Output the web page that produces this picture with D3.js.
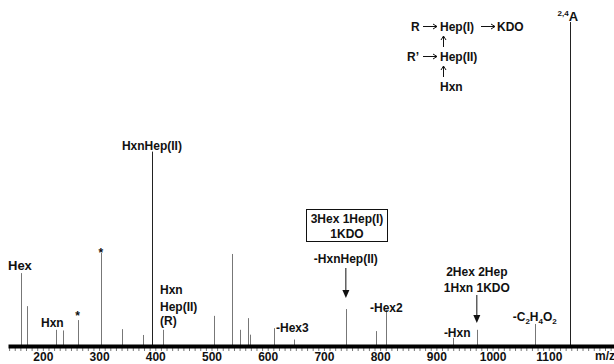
<!DOCTYPE html>
<html>
<head>
<meta charset="utf-8">
<script src="https://cdn.jsdelivr.net/npm/d3@7"></script>
<style>
  html, body { margin: 0; padding: 0; background: #fff; }
  svg { display: block; }
  text { font-family: "Liberation Sans", Arial, sans-serif; font-weight: bold; fill: #111; }
</style>
</head>
<body>
<svg id="ms" width="614" height="364"></svg>
<script>
// MS/MS spectrum, m/z vs relative intensity (2,4A = 100)
const peakMz = [161, 171, 223, 235, 262, 303, 341, 378, 394, 414, 504, 536, 551, 565, 568, 611, 646, 739, 793, 811, 930, 972, 1075, 1137];
const peakInt = [22.5, 12.3, 5, 4.8, 8, 28.7, 5.2, 3.4, 60, 5, 9.3, 28.4, 5, 8.6, 3.5, 5.5, 2, 11.4, 4.6, 11.1, 2.5, 5, 6.8, 100];
const tickMz = [200, 300, 400, 500, 600, 700, 800, 900, 1000, 1100];

const svg = d3.select('#ms');
const base = 346;
const x = d3.scaleLinear().domain([138, 1216]).range([8, 614]);
const y = d3.scaleLinear().domain([0, 100]).range([base, 22]);

// Peaks
const peaks = peakMz.map((m, i) => ({ mz: m, v: peakInt[i] }));
svg.append('g')
  .selectAll('line')
  .data(peaks)
  .enter()
  .append('line')
  .attr('x1', d => Math.round(x(d.mz)) + 0.5)
  .attr('x2', d => Math.round(x(d.mz)) + 0.5)
  .attr('y1', base)
  .attr('y2', d => y(d.v))
  .attr('stroke', d => d.v > 50 ? '#222' : '#777')
  .attr('stroke-width', 1);

// Minor ticks under the baseline
svg.append('g')
  .attr('transform', `translate(0,${base + 2})`)
  .call(d3.axisBottom(x).tickValues(d3.range(140, 1216, 10)).tickSize(3).tickFormat(''))
  .call(g => g.select('.domain').remove())
  .call(g => g.selectAll('line').attr('stroke', '#777'));

// Baseline band + labels
const ax = svg.append('g')
  .attr('transform', `translate(0,${base})`)
  .call(d3.axisBottom(x).tickValues(tickMz).tickSize(0).tickPadding(6).tickFormat(d3.format('d')));
ax.select('.domain').attr('stroke', '#000').attr('stroke-width', 4);
ax.selectAll('text').attr('font-size', 12).attr('font-family', '"Liberation Sans", Arial, sans-serif').attr('font-weight', 'bold').attr('fill', '#111');

svg.append('text').attr('x', 605).attr('y', 360).attr('text-anchor', 'middle')
  .attr('font-size', 12).text('m/z');

// Annotations
function label(txt, mx, yy, anchor, size) {
  return svg.append('text')
    .attr('x', mx)
    .attr('y', yy)
    .attr('text-anchor', anchor || 'middle')
    .attr('font-size', size || 12)
    .text(txt);
}
function arrow(px, y1, y2) {
  svg.append('line').attr('x1', px).attr('x2', px).attr('y1', y1).attr('y2', y2 - 7)
    .attr('stroke', '#111').attr('stroke-width', 1);
  svg.append('path').attr('d', `M${px - 3.5},${y2 - 8} L${px + 3.5},${y2 - 8} L${px},${y2} Z`).attr('fill', '#111');
}

label('Hex', 8, 270, 'start', 13);
label('Hxn', 41, 327, 'start');
label('*', x(262), 320, 'middle', 12);
label('*', x(303), 257, 'middle', 12);
label('HxnHep(II)', x(394), 150);
label('Hxn', 160, 294, 'start');
label('Hep(II)', 160, 311, 'start');
label('(R)', 160, 325, 'start');
label('-Hex3', 276, 332, 'start');

// boxed fragment
svg.append('rect').attr('x', 306.5).attr('y', 209.5).attr('width', 81).attr('height', 32)
  .attr('fill', 'none').attr('stroke', '#111').attr('stroke-width', 1);
label('3Hex 1Hep(I)', 347, 223);
label('1KDO', 347, 238);
label('-HxnHep(II)', x(739), 263);
arrow(x(739), 268, 298);

label('-Hex2', x(811), 312);
label('2Hex 2Hep', x(972), 276);
label('1Hxn 1KDO', x(972), 292);
arrow(x(972), 295, 323);
label('-Hxn', x(930) + 4, 337);

const c2 = svg.append('text').attr('x', x(1075)).attr('y', 321).attr('text-anchor', 'middle').attr('font-size', 12);
[['-C', 0], ['2', 1], ['H', 0], ['4', 1], ['O', 0], ['2', 1]].forEach(([t, sub]) => {
  c2.append('tspan').text(t)
    .attr('font-size', sub ? 8 : 12)
    .attr('dy', sub ? 3 : (t === '-C' ? 0 : -3));
});

const aa = svg.append('text').attr('x', x(1137) - 12).attr('y', 21).attr('font-size', 13);
aa.append('tspan').text('2,4').attr('font-size', 8).attr('dy', -5);
aa.append('tspan').text('A').attr('dy', 5);

// structure scheme
const sch = svg.append('g');
function stext(tx, ty, t) {
  sch.append('text').attr('x', tx).attr('y', ty).attr('font-size', 12).text(t);
}
function harrow(x1, x2, yy) {
  sch.append('path')
    .attr('d', `M${x1},${yy} L${x2},${yy} M${x2 - 4},${yy - 2.5} L${x2},${yy} L${x2 - 4},${yy + 2.5}`)
    .attr('fill', 'none').attr('stroke', '#111').attr('stroke-width', 1);
}
function varrow(xx, y1, y2) {
  sch.append('path')
    .attr('d', `M${xx},${y1} L${xx},${y2} M${xx - 2.5},${y2 + 4} L${xx},${y2} L${xx + 2.5},${y2 + 4}`)
    .attr('fill', 'none').attr('stroke', '#111').attr('stroke-width', 1);
}
stext(411, 31, 'R');
harrow(423, 437, 26.5);
stext(440, 31, 'Hep(I)');
harrow(481, 495, 26.5);
stext(497, 31, 'KDO');
varrow(443.5, 47, 36);
stext(407, 61, 'R\u2019');
harrow(423, 437, 56.5);
stext(440, 61, 'Hep(II)');
varrow(443.5, 77, 66);
stext(440, 91, 'Hxn');
</script>
</body>
</html>
